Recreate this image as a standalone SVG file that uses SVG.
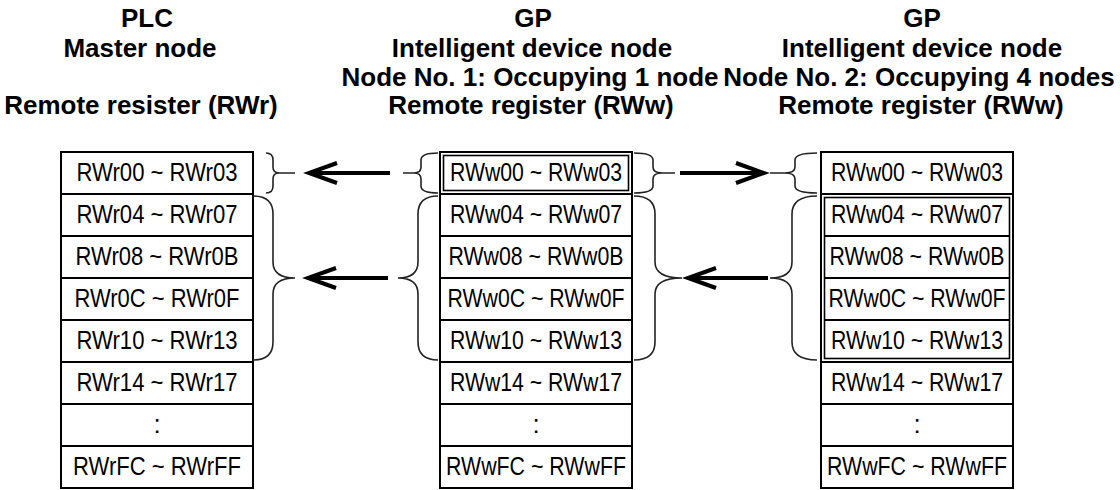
<svg xmlns="http://www.w3.org/2000/svg" width="1120" height="490" viewBox="0 0 1120 490">
<style>
.hd{font-family:"Liberation Sans",Arial,sans-serif;font-weight:bold;font-size:26px;fill:#000;text-anchor:middle}
.cl{font-family:"Liberation Sans",Arial,sans-serif;font-size:26px;fill:#000;text-anchor:middle}
.box{fill:#fff;stroke:#000;stroke-width:2}
.row{stroke:#000;stroke-width:2}
.dbl{fill:none;stroke:#000;stroke-width:1.6}
.br{fill:none;stroke:#222;stroke-width:1.6}
.ar{fill:none;stroke:#000;stroke-width:4}
</style>
<defs>
<marker id="ah" markerUnits="userSpaceOnUse" markerWidth="40" markerHeight="30" viewBox="-32 -15 40 30" refX="0" refY="0" orient="auto" overflow="visible">
<path d="M-28,-10 L0,0 L-28,10" fill="none" stroke="#000" stroke-width="4"/>
</marker>
</defs>
<rect width="1120" height="490" fill="#fff"/>

<g id="header-plc">
<text class="hd" x="147" y="27">PLC</text>
<text class="hd" x="140" y="57">Master node</text>
<text class="hd" x="141" y="114">Remote resister (RWr)</text>
</g>
<g id="header-gp1">
<text class="hd" x="533" y="27">GP</text>
<text class="hd" x="532" y="57">Intelligent device node</text>
<text class="hd" x="530" y="86">Node No. 1: Occupying 1 node</text>
<text class="hd" x="531" y="114">Remote register (RWw)</text>
</g>
<g id="header-gp2">
<text class="hd" x="922" y="27">GP</text>
<text class="hd" x="922" y="57">Intelligent device node</text>
<text class="hd" x="919" y="86">Node No. 2: Occupying 4 nodes</text>
<text class="hd" x="921" y="114">Remote register (RWw)</text>
</g>

<g id="plc-registers">
<rect class="box" x="61" y="152" width="192" height="336"/>
<line class="row" x1="61" y1="194" x2="253" y2="194"/>
<line class="row" x1="61" y1="236" x2="253" y2="236"/>
<line class="row" x1="61" y1="278" x2="253" y2="278"/>
<line class="row" x1="61" y1="320" x2="253" y2="320"/>
<line class="row" x1="61" y1="362" x2="253" y2="362"/>
<line class="row" x1="61" y1="404" x2="253" y2="404"/>
<line class="row" x1="61" y1="446" x2="253" y2="446"/>
<text class="cl" x="157" y="180.5" textLength="161" lengthAdjust="spacingAndGlyphs">RWr00 ~ RWr03</text>
<text class="cl" x="157" y="222.5" textLength="161" lengthAdjust="spacingAndGlyphs">RWr04 ~ RWr07</text>
<text class="cl" x="157" y="264.5" textLength="163" lengthAdjust="spacingAndGlyphs">RWr08 ~ RWr0B</text>
<text class="cl" x="157" y="306.5" textLength="165" lengthAdjust="spacingAndGlyphs">RWr0C ~ RWr0F</text>
<text class="cl" x="157" y="348.5" textLength="161" lengthAdjust="spacingAndGlyphs">RWr10 ~ RWr13</text>
<text class="cl" x="157" y="390.5" textLength="161" lengthAdjust="spacingAndGlyphs">RWr14 ~ RWr17</text>
<text class="cl" x="157" y="432.5">:</text>
<text class="cl" x="157" y="474.5" textLength="168" lengthAdjust="spacingAndGlyphs">RWrFC ~ RWrFF</text>
</g>

<g id="gp1-registers">
<rect class="box" x="440" y="152" width="192" height="336"/>
<line class="row" x1="440" y1="194" x2="632" y2="194"/>
<line class="row" x1="440" y1="236" x2="632" y2="236"/>
<line class="row" x1="440" y1="278" x2="632" y2="278"/>
<line class="row" x1="440" y1="320" x2="632" y2="320"/>
<line class="row" x1="440" y1="362" x2="632" y2="362"/>
<line class="row" x1="440" y1="404" x2="632" y2="404"/>
<line class="row" x1="440" y1="446" x2="632" y2="446"/>
<rect class="dbl" x="443.5" y="155.5" width="185" height="35"/>
<text class="cl" x="536" y="180.5" textLength="172" lengthAdjust="spacingAndGlyphs">RWw00 ~ RWw03</text>
<text class="cl" x="536" y="222.5" textLength="172" lengthAdjust="spacingAndGlyphs">RWw04 ~ RWw07</text>
<text class="cl" x="536" y="264.5" textLength="175" lengthAdjust="spacingAndGlyphs">RWw08 ~ RWw0B</text>
<text class="cl" x="536" y="306.5" textLength="177" lengthAdjust="spacingAndGlyphs">RWw0C ~ RWw0F</text>
<text class="cl" x="536" y="348.5" textLength="172" lengthAdjust="spacingAndGlyphs">RWw10 ~ RWw13</text>
<text class="cl" x="536" y="390.5" textLength="172" lengthAdjust="spacingAndGlyphs">RWw14 ~ RWw17</text>
<text class="cl" x="536" y="432.5">:</text>
<text class="cl" x="536" y="474.5" textLength="180" lengthAdjust="spacingAndGlyphs">RWwFC ~ RWwFF</text>
</g>

<g id="gp2-registers">
<rect class="box" x="821" y="152" width="192" height="336"/>
<line class="row" x1="821" y1="194" x2="1013" y2="194"/>
<line class="row" x1="824.5" y1="236" x2="1009.5" y2="236"/>
<line class="row" x1="824.5" y1="278" x2="1009.5" y2="278"/>
<line class="row" x1="824.5" y1="320" x2="1009.5" y2="320"/>
<line class="row" x1="821" y1="362" x2="1013" y2="362"/>
<line class="row" x1="821" y1="404" x2="1013" y2="404"/>
<line class="row" x1="821" y1="446" x2="1013" y2="446"/>
<rect class="dbl" x="824.5" y="197.5" width="185" height="161"/>
<text class="cl" x="917" y="180.5" textLength="172" lengthAdjust="spacingAndGlyphs">RWw00 ~ RWw03</text>
<text class="cl" x="917" y="222.5" textLength="172" lengthAdjust="spacingAndGlyphs">RWw04 ~ RWw07</text>
<text class="cl" x="917" y="264.5" textLength="175" lengthAdjust="spacingAndGlyphs">RWw08 ~ RWw0B</text>
<text class="cl" x="917" y="306.5" textLength="177" lengthAdjust="spacingAndGlyphs">RWw0C ~ RWw0F</text>
<text class="cl" x="917" y="348.5" textLength="172" lengthAdjust="spacingAndGlyphs">RWw10 ~ RWw13</text>
<text class="cl" x="917" y="390.5" textLength="172" lengthAdjust="spacingAndGlyphs">RWw14 ~ RWw17</text>
<text class="cl" x="917" y="432.5">:</text>
<text class="cl" x="917" y="474.5" textLength="180" lengthAdjust="spacingAndGlyphs">RWwFC ~ RWwFF</text>
</g>

<g id="connectors">
<path class="br" d="M266,153 Q273,153 273,160 L273,167 Q273,173 279,173 L295,173 M279,173 Q273,173 273,179 L273,186 Q273,193 266,193"/>
<path class="br" d="M253,196 Q273,196 273,214 L273,262 Q273,278 295,278 Q273,278 273,294 L273,342 Q273,360 253,360"/>
<path class="br" d="M438,153 Q421,153 421,160 L421,167 Q421,173 414,173 L403,173 M414,173 Q421,173 421,179 L421,186 Q421,193 438,193"/>
<path class="br" d="M438,196 Q418,196 418,214 L418,262 Q418,278 398,278 Q418,278 418,294 L418,342 Q418,360 438,360"/>
<path class="br" d="M634,153 Q653,153 653,160 L653,167 Q653,173 662,173 L675,173 M662,173 Q653,173 653,179 L653,186 Q653,193 634,193"/>
<path class="br" d="M634,196 Q655,196 655,214 L655,262 Q655,278 682,278 Q655,278 655,294 L655,342 Q655,360 634,360"/>
<path class="br" d="M817,153 Q795,153 795,160 L795,167 Q795,173 785,173 L770,173 M785,173 Q795,173 795,179 L795,186 Q795,193 817,193"/>
<path class="br" d="M817,196 Q792,196 792,214 L792,262 Q792,278 770,278 Q792,278 792,294 L792,342 Q792,360 817,360"/>
<line class="ar" x1="390" y1="173" x2="309" y2="173" marker-end="url(#ah)"/>
<line class="ar" x1="388" y1="278" x2="308" y2="278" marker-end="url(#ah)"/>
<line class="ar" x1="680" y1="173" x2="764" y2="173" marker-end="url(#ah)"/>
<line class="ar" x1="768" y1="278" x2="688" y2="278" marker-end="url(#ah)"/>
</g>
</svg>
